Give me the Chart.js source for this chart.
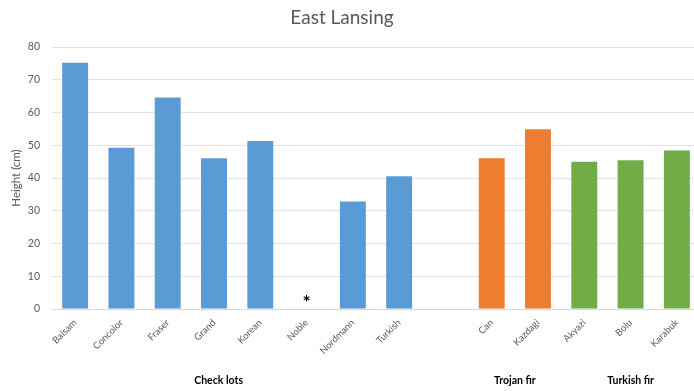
<!DOCTYPE html>
<html>
<head>
<meta charset="utf-8">
<script src="https://cdn.jsdelivr.net/npm/chart.js@4/dist/chart.umd.min.js"></script>
<style>
  html, body { margin: 0; padding: 0; background: #fff; overflow: hidden; }
  #wrap { width: 700px; height: 391px; }
</style>
</head>
<body>
<div id="wrap"><canvas id="c" width="700" height="391"></canvas></div>
<script>
// Seedling height by seed source, East Lansing site
const categories = ['Balsam', 'Concolor', 'Fraser', 'Grand', 'Korean', 'Noble', 'Nordmann', 'Turkish', '',
                    'Can', 'Kazdagi', 'Akyazi', 'Bolu', 'Karabuk'];
const heights = [75.2, 49.2, 64.6, 46.0, 51.3, null, 32.8, 40.5, null,
                 46.0, 54.9, 45.0, 45.4, 48.4];
// group each category belongs to (null = spacer)
const groupOf = ['check', 'check', 'check', 'check', 'check', 'check', 'check', 'check', null,
                 'trojan', 'trojan', 'turkish', 'turkish', 'turkish'];
const groupNames = ['Check lots', 'Trojan fir', 'Turkish fir'];
const groupCenters = [3.1, 9.5, 12.0];
const groupColors = { check: '#5B9BD5', trojan: '#ED7D31', turkish: '#70AD47' };
// Noble has no measurement; flagged with an asterisk
const flagged = ['Noble'];
const yTicks = [0, 10, 20, 30, 40, 50, 60, 70, 80];

const FONT = 'Lato, "Open Sans", sans-serif';

const annotations = {
  id: 'annotations',
  afterDraw(chart) {
    const ctx = chart.ctx;
    const x = chart.scales.x, y = chart.scales.y;
    ctx.save();
    // title
    ctx.fillStyle = '#595959';
    ctx.font = '19px ' + FONT;
    ctx.textAlign = 'center';
    ctx.textBaseline = 'middle';
    ctx.fillText('East Lansing', 342, 18);
    // missing-value flags
    ctx.fillStyle = '#000';
    ctx.font = 'bold 19px ' + FONT;
    flagged.forEach(name => {
      const i = categories.indexOf(name);
      ctx.fillText('*', x.getPixelForValue(i), y.getPixelForValue(1.8));
    });
    // group labels under the category labels
    ctx.font = 'bold 10.5px ' + FONT;
    groupNames.forEach((g, k) => {
      ctx.fillText(g, x.getPixelForValue(groupCenters[k]), 381);
    });
    // y axis title
    ctx.fillStyle = '#595959';
    ctx.font = '11.5px ' + FONT;
    ctx.translate(16, 178);
    ctx.rotate(-Math.PI / 2);
    ctx.fillText('Height (cm)', 0, 0);
    ctx.restore();
  }
};

new Chart(document.getElementById('c'), {
  type: 'bar',
  data: {
    labels: categories,
    datasets: [{
      data: heights,
      backgroundColor: groupOf.map(g => g ? groupColors[g] : 'rgba(0,0,0,0)'),
      borderWidth: 0,
      categoryPercentage: 1.0,
      barPercentage: 0.56
    }]
  },
  options: {
    responsive: false,
    devicePixelRatio: 1,
    animation: false,
    layout: { padding: { top: 47, right: 0, left: 0, bottom: 0 } },
    plugins: { legend: { display: false }, tooltip: { enabled: false }, title: { display: false } },
    scales: {
      x: {
        grid: { display: false, drawTicks: false },
        border: { display: true, color: '#d9d9d9', width: 1 },
        ticks: {
          color: '#595959',
          font: { family: FONT, size: 9.5 },
          maxRotation: 45,
          minRotation: 45,
          autoSkip: false,
          padding: 8
        },
        afterFit(scale) { scale.height = 82; }
      },
      y: {
        min: 0,
        max: 80,
        afterBuildTicks(scale) { scale.ticks = yTicks.map(v => ({ value: v })); },
        grid: { color: '#e3e3e3', lineWidth: 1, drawTicks: false },
        border: { display: false },
        ticks: {
          color: '#595959',
          font: { family: FONT, size: 10.5 },
          padding: 12
        },
        afterFit(scale) { scale.width = 52; }
      }
    }
  },
  plugins: [annotations]
});
</script>
</body>
</html>
